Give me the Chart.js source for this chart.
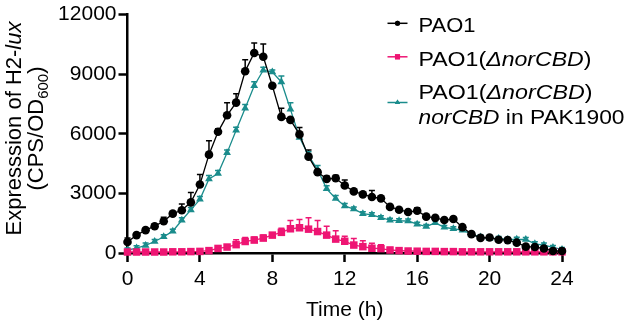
<!DOCTYPE html>
<html><head><meta charset="utf-8">
<script src="https://cdn.jsdelivr.net/npm/chart.js@4/dist/chart.umd.min.js"></script>
<style>html,body{margin:0;padding:0;background:#fff;}#wrap{width:630px;height:328px;position:relative;}</style>
</head><body><div id="wrap"><canvas id="c" width="630" height="328"></canvas></div>
<script>
const hours = [0,0.5,1,1.5,2,2.5,3,3.5,4,4.5,5,5.5,6,6.5,7,7.5,8,8.5,9,9.5,10,10.5,11,11.5,12,12.5,13,13.5,14,14.5,15,15.5,16,16.5,17,17.5,18,18.5,19,19.5,20,20.5,21,21.5,22,22.5,23,23.5,24];
const xTicks = [0,4,8,12,16,20,24];
const yTicks = [0,3000,6000,9000,12000];
const seriesNames = ['PAO1','PAO1(ΔnorCBD)','PAO1(ΔnorCBD) norCBD in PAK1900'];

const pao1 = [550,900,1150,1350,1600,1980,2150,2550,3450,4950,6100,6930,7570,9150,10070,9880,8420,6850,6700,5970,4850,4070,3730,3760,3400,3100,2950,2820,2750,2320,2180,2060,2130,1830,1770,1660,1710,1300,950,760,780,670,650,520,320,300,230,100,100];
const pao1Err = [200,100,100,100,200,100,320,500,500,700,150,630,450,580,500,640,100,440,100,350,330,100,150,150,280,100,100,330,100,100,100,100,150,100,80,80,100,80,80,80,80,80,80,80,80,80,80,80,80];

const delta = [50,50,50,50,50,60,60,70,80,120,230,300,420,580,650,750,900,1040,1220,1270,1200,1080,900,700,590,400,320,240,220,150,120,100,90,80,80,70,70,60,60,60,60,60,60,60,60,60,60,60,60];
const deltaErr = [30,30,30,30,30,30,30,30,30,30,30,100,250,200,150,150,100,200,420,420,570,550,450,420,250,330,300,250,200,130,50,50,50,50,50,50,50,50,50,50,50,50,50,50,50,50,50,50,50];

const comp = [150,250,380,580,820,1100,1650,2170,2700,3730,4000,5040,6180,7280,8420,9200,9110,8610,7230,5820,4900,4200,3230,2740,2370,2210,1980,1920,1780,1650,1620,1610,1450,1330,1520,1290,1220,1150,950,800,730,730,680,690,680,460,400,280,180];
const compErr = [100,120,120,100,100,100,120,120,150,170,150,150,150,200,200,150,100,300,330,200,200,200,150,150,120,100,100,100,100,100,100,100,100,100,100,100,100,100,100,100,100,100,100,100,100,100,100,100,100];

const BLACK = '#000000', PINK = '#EE1573', TEAL = '#1A8C8C';
const FONT = '"Liberation Sans", Arial, Helvetica, sans-serif';

function pts(vals){ return hours.map((h,i)=>({x:h,y:vals[i]})); }

const errorBars = {
  id:'errorBars',
  beforeDatasetsDraw(chart){
    const ctx = chart.ctx, xs = chart.scales.x, ys = chart.scales.y;
    chart.data.datasets.forEach((ds)=>{
      if(!ds.errors) return;
      ctx.save(); ctx.strokeStyle = ds.borderColor; ctx.lineWidth = 1.5;
      ds.data.forEach((p,i)=>{
        const e = ds.errors[i]; if(!e) return;
        const x = xs.getPixelForValue(p.x);
        const y0 = ys.getPixelForValue(p.y), y1 = ys.getPixelForValue(p.y+e);
        ctx.beginPath(); ctx.moveTo(x,y0); ctx.lineTo(x,y1);
        ctx.moveTo(x-3,y1); ctx.lineTo(x+3,y1); ctx.stroke();
      });
      ctx.restore();
    });
  }
};

function drawRuns(ctx, runs, x, y){
  let cx = x;
  runs.forEach(r=>{ ctx.font = r.font; ctx.fillText(r.t, cx, y + (r.dy||0)); cx += ctx.measureText(r.t).width; });
}
function runsWidth(ctx, runs){ let w=0; runs.forEach(r=>{ctx.font=r.font; w+=ctx.measureText(r.t).width;}); return w; }
function drawRunsFit(ctx, runs, x, y, target){
  const w = runsWidth(ctx, runs);
  const s = target ? target / w : 1;
  ctx.save(); ctx.translate(x, y); ctx.scale(s, 1); drawRuns(ctx, runs, 0, 0); ctx.restore();
}

const decor = {
  id:'decor',
  afterDraw(chart){
    const ctx = chart.ctx;
    ctx.save();
    ctx.fillStyle = '#000'; ctx.textBaseline = 'alphabetic'; ctx.textAlign = 'left';
    const N = '22px '+FONT, I = 'italic 22px '+FONT, S = '15px '+FONT;
    const l1 = [{t:'Expresssion of H2-',font:N},{t:'lux',font:I}];
    const l2 = [{t:'(CPS/OD',font:N},{t:'600',font:S,dy:5},{t:')',font:N}];
    [[l1,20.7],[l2,43.3]].forEach(([runs,bx])=>{
      const w = runsWidth(ctx,runs);
      ctx.save(); ctx.translate(bx,128.5); ctx.rotate(-Math.PI/2);
      drawRuns(ctx,runs,-w/2,0); ctx.restore();
    });
    const LN = '21px '+FONT, LI = 'italic 21px '+FONT;
    const tx = 418.5;
    const ds = chart.data.datasets;
    const rows = [
      {sym:0, sy:23.3, lines:[[[{t:'PAO1',font:LN}],31.5,57]]},
      {sym:1, sy:56.8, lines:[[[{t:'PAO1(',font:LN},{t:'ΔnorCBD',font:LI},{t:')',font:LN}],66,173]]},
      {sym:2, sy:102.5, lines:[[[{t:'PAO1(',font:LN},{t:'ΔnorCBD',font:LI},{t:')',font:LN}],99.3,174],[[{t:'norCBD',font:LI},{t:' in PAK1900',font:LN}],123.5,206]]}
    ];
    rows.forEach(r=>{
      const d = ds[r.sym];
      ctx.strokeStyle = d.borderColor; ctx.lineWidth = 1.5;
      ctx.beginPath(); ctx.moveTo(387.5,r.sy); ctx.lineTo(407.5,r.sy); ctx.stroke();
      ctx.fillStyle = d.borderColor;
      Chart.helpers.drawPoint(ctx,{pointStyle:d.pointStyle,radius:d.legendRadius,rotation:0,borderWidth:0},397.5,r.sy);
      ctx.fill();
      ctx.fillStyle = '#000';
      r.lines.forEach(([runs,by,tw])=>drawRunsFit(ctx,runs,tx,by,tw));
    });
    ctx.restore();
  }
};

new Chart(document.getElementById('c'),{
  type:'line',
  data:{datasets:[
    {label:seriesNames[0],data:pts(pao1),errors:pao1Err,borderColor:BLACK,backgroundColor:BLACK,pointStyle:'circle',pointRadius:4.3,legendRadius:2.5,borderWidth:1.3,pointBorderWidth:0,tension:0,clip:false},
    {label:seriesNames[1],data:pts(delta),errors:deltaErr,borderColor:PINK,backgroundColor:PINK,pointStyle:'rect',pointRadius:5.3,legendRadius:3.6,borderWidth:1.3,pointBorderWidth:0,tension:0,clip:false},
    {label:seriesNames[2],data:pts(comp),errors:compErr,borderColor:TEAL,backgroundColor:TEAL,pointStyle:'triangle',pointRadius:4.5,legendRadius:3,borderWidth:1.3,pointBorderWidth:0,tension:0,clip:false}
  ]},
  options:{
    responsive:false, devicePixelRatio:1, animation:false,
    layout:{padding:{top:13,right:68,bottom:5,left:0}},
    plugins:{legend:{display:false},tooltip:{enabled:false}},
    scales:{
      x:{type:'linear',min:0,max:24,
        afterBuildTicks:(s)=>{s.ticks = xTicks.map(v=>({value:v}));},
        afterFit:(s)=>{s.height=70;},
        ticks:{font:{family:FONT,size:21},color:'#000',padding:5,maxRotation:0,callback:(v)=>String(v)},
        grid:{drawOnChartArea:false,drawTicks:true,tickLength:9,tickWidth:2.5,tickColor:'#000'},
        border:{display:true,color:'#000',width:2.5},
        title:{display:true,text:'Time (h)',font:{family:FONT,size:21},color:'#000',padding:0}
      },
      y:{type:'linear',min:0,max:12000,
        afterBuildTicks:(s)=>{s.ticks = yTicks.map(v=>({value:v}));},
        afterFit:(s)=>{s.width=127.5;},
        ticks:{font:{family:FONT,size:21},color:'#000',padding:2,callback:(v)=>String(v)},
        grid:{drawOnChartArea:false,drawTicks:true,tickLength:9,tickWidth:2.5,tickColor:'#000'},
        border:{display:true,color:'#000',width:2.5}
      }
    }
  },
  plugins:[errorBars,decor]
});
</script></body></html>
